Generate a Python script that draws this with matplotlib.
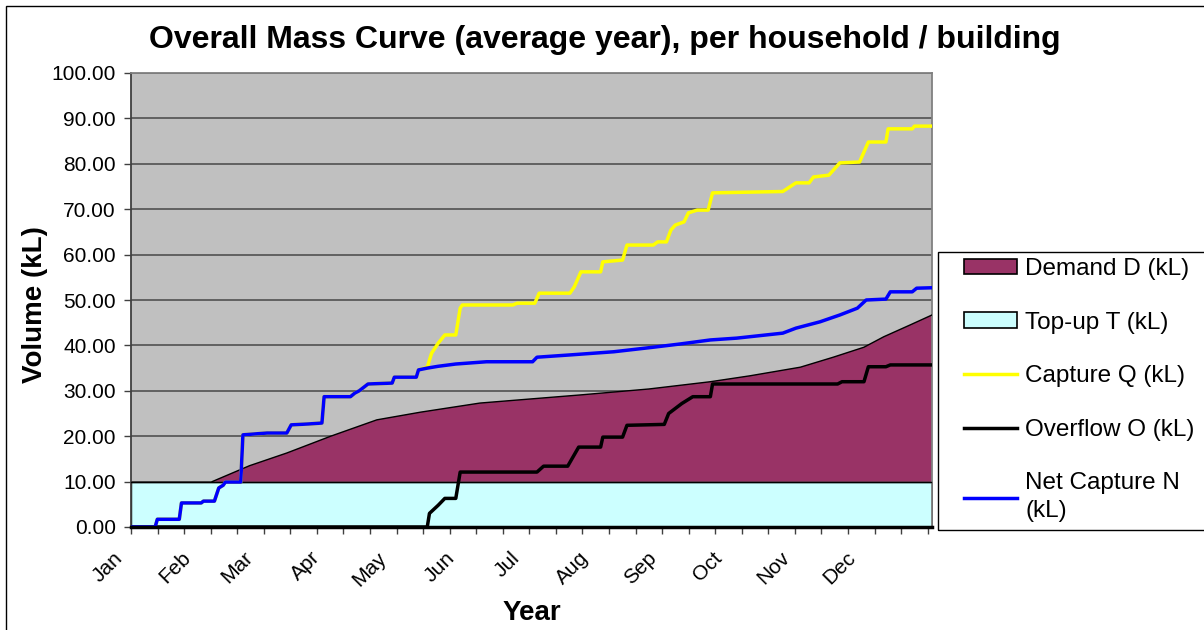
import matplotlib
matplotlib.use("Agg")
import matplotlib.pyplot as plt
from matplotlib.lines import Line2D
from matplotlib.patches import Patch, Rectangle
from matplotlib.transforms import ScaledTranslation
import numpy as np

plt.rcParams['font.family'] = ['Liberation Sans', 'DejaVu Sans']

# month labels (day of year where each month starts)
months = ['Jan', 'Feb', 'Mar', 'Apr', 'May', 'Jun', 'Jul', 'Aug', 'Sep', 'Oct', 'Nov', 'Dec']
month_start = [0, 31, 59, 90, 120, 151, 181, 212, 243, 273, 304, 334]

# top-up T (kL), constant over the year
topup_days = [0, 365]
topup_vals = [10.0, 10.0]

# demand D (kL), stacked on top of the top-up
demand_days = [0, 37, 54, 71, 91, 112, 132, 159, 205, 236, 264, 282, 305, 320, 334, 343, 355, 365]
demand_vals = [0, 0, 3.5, 6.3, 10.0, 13.6, 15.3, 17.3, 19.1, 20.4, 22.0, 23.3, 25.2, 27.4, 29.6, 31.9, 34.5, 36.7]

# net capture N (kL)
net_days = [0, 11, 12, 22, 23, 32, 33, 38, 40, 42, 43, 50, 51, 62, 71, 73, 81, 87, 88, 100,
            102, 104, 108, 119, 120, 130, 131, 135, 140, 148, 162, 183, 185, 200, 220, 238, 250, 264, 276, 297,
            303, 314, 323, 331, 335, 344, 346, 356, 358, 365]
net_vals = [0, 0, 1.7, 1.7, 5.3, 5.3, 5.7, 5.7, 8.6, 9.2, 9.9, 9.9, 20.3, 20.7, 20.7, 22.5, 22.7, 22.9, 28.7, 28.7,
            29.5, 30.0, 31.5, 31.7, 33.0, 33.0, 34.6, 35.0, 35.4, 35.9, 36.4, 36.4, 37.4, 37.9, 38.6, 39.6, 40.3, 41.2, 41.6, 42.7,
            43.8, 45.2, 46.7, 48.2, 50.0, 50.2, 51.8, 51.8, 52.6, 52.7]

# overflow O (kL)
over_days = [0, 135, 136, 140, 143, 148, 150, 185, 188, 199, 204, 214, 215, 224, 226, 243, 245, 251, 256, 264,
             265, 322, 324, 334, 336, 344, 346, 365]
over_vals = [0, 0, 3.0, 4.8, 6.3, 6.3, 12.1, 12.1, 13.4, 13.4, 17.6, 17.6, 19.8, 19.8, 22.4, 22.6, 25.0, 27.2, 28.7, 28.7,
             31.5, 31.5, 32.0, 32.0, 35.3, 35.3, 35.7, 35.7]

# capture Q (kL)
cap_days = [0, 11, 12, 22, 23, 32, 33, 38, 40, 42, 43, 50, 51, 62, 71, 73, 81, 87, 88, 100,
            102, 104, 108, 119, 120, 130, 131,
            135, 137, 140, 143, 148, 150, 151, 174, 176, 184, 186, 200, 202, 205, 214, 215, 224, 226, 238, 240,
            244, 246, 248, 252, 254, 258, 263, 265, 297, 303, 309, 311, 318, 323, 332, 336, 344, 345, 356, 357, 365]
cap_vals = [0, 0, 1.7, 1.7, 5.3, 5.3, 5.7, 5.7, 8.6, 9.2, 9.9, 9.9, 20.3, 20.7, 20.7, 22.5, 22.7, 22.9, 28.7, 28.7,
            29.5, 30.0, 31.5, 31.7, 33.0, 33.0, 34.6,
            35.2, 38.3, 40.5, 42.3, 42.3, 48.2, 48.9, 48.9, 49.3, 49.3, 51.5, 51.5, 52.9, 56.2, 56.2, 58.4, 58.8, 62.1, 62.1, 62.8,
            62.8, 65.4, 66.5, 67.2, 69.2, 69.8, 69.8, 73.6, 73.9, 75.8, 75.8, 77.1, 77.5, 80.2, 80.4, 84.8, 84.8, 87.7, 87.7, 88.3, 88.3]

fig = plt.figure(figsize=(12.04, 6.30), dpi=100)
ax = fig.add_axes([131/1204, 103/630, 801/1204, 454/630])
ax.set_facecolor('#C0C0C0')

# stacked areas: top-up, then demand on top
d_days = np.array(demand_days, dtype=float)
d_base = np.interp(d_days, topup_days, topup_vals)
ax.fill_between(topup_days, 0, topup_vals, facecolor='#CCFFFF', edgecolor='black', lw=1.0, zorder=2)
ax.fill_between(d_days, d_base, d_base + np.array(demand_vals), facecolor='#993366',
                edgecolor='none', zorder=2)
ax.plot(d_days[1:], (d_base + np.array(demand_vals))[1:], color='black', lw=1.0, zorder=3)
ax.plot(topup_days, topup_vals, color='black', lw=1.0, zorder=3)

ax.plot(cap_days, cap_vals, color='#FFFF00', lw=2.5, zorder=4, solid_joinstyle='round')
ax.plot(over_days, over_vals, color='black', lw=2.5, zorder=5, solid_joinstyle='round')
ax.plot(net_days, net_vals, color='#0000FF', lw=2.5, zorder=6, solid_joinstyle='round')

ax.set_xlim(0, 365)
ax.set_ylim(0, 100)

ax.set_yticks(np.arange(0, 101, 10))
ax.set_yticklabels([f"{v:.2f}" for v in np.arange(0, 101, 10)], fontsize=15)
ax.yaxis.grid(True, color='#5A5A5A', lw=1.3)
ax.set_axisbelow(True)

ax.xaxis.remove_overlapping_locs = False
ax.set_xticks(np.arange(0, 366, 12.1))
ax.set_xticklabels([])
ax.set_xticks(month_start, minor=True)
ax.set_xticklabels(months, minor=True, rotation=45, ha='right', va='center',
                   rotation_mode='anchor', fontsize=15)
ax.tick_params(axis='x', which='major', length=5, width=1, color='#404040', direction='out')
ax.tick_params(axis='x', which='minor', length=0, pad=20)
ax.tick_params(axis='y', length=5, width=1, color='#404040', pad=6)
off = ScaledTranslation(-11/100, 0, fig.dpi_scale_trans)
for lab in ax.get_xticklabels(minor=True):
    lab.set_transform(lab.get_transform() + off)

for s in ['top', 'right']:
    ax.spines[s].set_color('#808080')
    ax.spines[s].set_linewidth(1.3)
ax.spines['left'].set_color('#404040')
ax.spines['left'].set_linewidth(1.3)
ax.spines['bottom'].set_color('black')
ax.spines['bottom'].set_linewidth(2.5)
ax.spines['bottom'].set_zorder(7)

ax.set_ylabel('Volume (kL)', fontsize=20, fontweight='bold', va='center')
ax.yaxis.set_label_coords(-96/801, 0.5 - 5/454)
ax.set_xlabel('Year', fontsize=20, fontweight='bold', va='center')
ax.xaxis.set_label_coords(0.5, -(613 - 527)/454)
fig.text(605/1204, 1 - 40/630, 'Overall Mass Curve (average year), per household / building',
         ha='center', va='center', fontsize=23, fontweight='bold')

handles = [Patch(facecolor='#993366', edgecolor='black', lw=1.2),
           Patch(facecolor='#CCFFFF', edgecolor='black', lw=1.2),
           Line2D([], [], color='#FFFF00', lw=2.5),
           Line2D([], [], color='black', lw=2.5),
           Line2D([], [], color='#0000FF', lw=2.5)]
labels = ['Demand D (kL)', 'Top-up T (kL)', 'Capture Q (kL)', 'Overflow O (kL)', 'Net Capture N\n(kL)']
leg = fig.legend(handles, labels, loc='upper left', bbox_to_anchor=(964/1204, 1 - 258/630),
                 fontsize=17.5, frameon=False, borderaxespad=0, borderpad=0,
                 handlelength=2.2, handleheight=0.6, handletextpad=0.33, labelspacing=1.3)
leg.get_texts()[-1].set_linespacing(1.35)

# legend box (cropped at the right edge)
fig.patches.append(Rectangle((938/1204, 1 - 530/630), 0.3, (530 - 252)/630, transform=fig.transFigure,
                             fill=False, edgecolor='black', lw=1.0))
# chart area border (cropped at right and bottom)
fig.patches.append(Rectangle((6/1204, -0.1), 1.2, 1 - 6/630 + 0.1, transform=fig.transFigure,
                             fill=False, edgecolor='black', lw=1.0))

fig.savefig('out.png', dpi=100)
